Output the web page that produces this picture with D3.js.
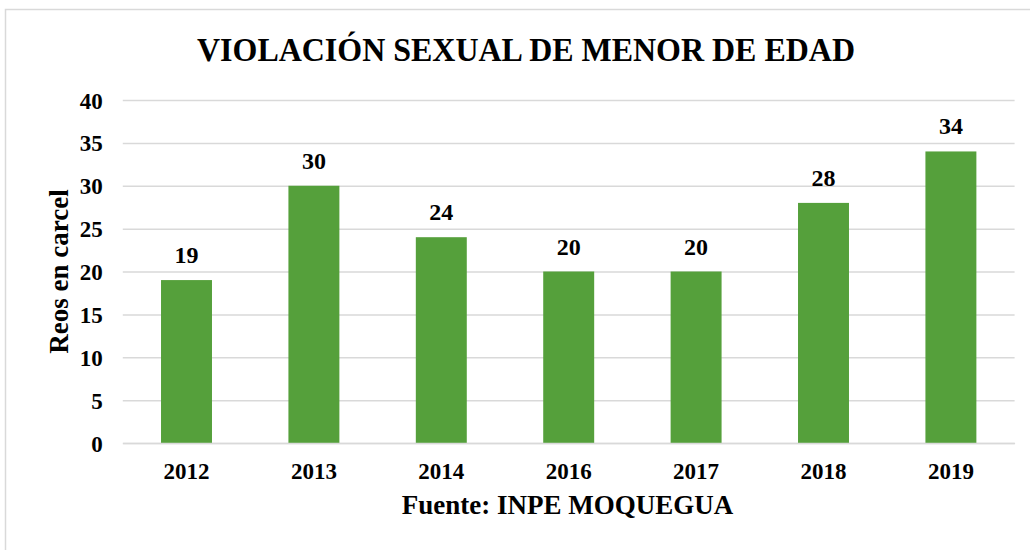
<!DOCTYPE html>
<html><head><meta charset="utf-8">
<script src="https://cdn.jsdelivr.net/npm/d3@7"></script>
<style>body{margin:0;background:#fff}svg{display:block}
svg text{font-family:"Liberation Serif","Times New Roman",Tinos,serif;font-weight:bold;fill:#000}</style>
</head><body>
<svg id="c" width="1030" height="550"></svg>
<script>
(function(){
const categories = ["2012","2013","2014","2016","2017","2018","2019"];
const values = [19,30,24,20,20,28,34];
const yTicks = [0,5,10,15,20,25,30,35,40];
const title = "VIOLACIÓN SEXUAL DE MENOR DE EDAD";
const yTitle = "Reos en carcel";
const xTitle = "Fuente: INPE MOQUEGUA";

const svg = d3.select("#c");
svg.append("rect").attr("x",5.5).attr("y",9.5).attr("width",1040).attr("height",560)
  .attr("fill","#fff").attr("stroke","#d9d9d9").attr("stroke-width",1.5);

const pLeft=122.8, pRight=1014.6, pTop=100, pBottom=443;
const x = d3.scaleBand().domain(categories).range([pLeft,pRight]).paddingInner(0.6).paddingOuter(0.3);
const y = d3.scaleLinear().domain([0,40]).range([pBottom,pTop]);

const g = svg.append("g");
const yAxis = g.append("g").attr("transform",`translate(${pLeft},0)`)
  .call(d3.axisLeft(y).tickValues(yTicks).tickSize(-(pRight-pLeft)).tickPadding(20));
yAxis.attr("font-family",null).attr("font-size",null);
yAxis.select(".domain").remove();
yAxis.selectAll(".tick line").attr("stroke","#d9d9d9").attr("stroke-width",1.5);
yAxis.selectAll(".tick text").style("font-size","23px").attr("fill","#000").attr("dy","0.35em");

g.selectAll("rect.bar").data(values).join("rect").attr("class","bar")
  .attr("x",(d,i)=>x(categories[i])).attr("width",x.bandwidth())
  .attr("y",d=>y(d)).attr("height",d=>pBottom-y(d)).attr("fill","#55A03B");

const xAxis = g.append("g").attr("transform",`translate(0,${pBottom})`)
  .call(d3.axisBottom(x).tickSize(0).tickPadding(20));
xAxis.attr("font-family",null).attr("font-size",null);
xAxis.select(".domain").attr("stroke","#d9d9d9").attr("stroke-width",1.5);
xAxis.selectAll(".tick text").style("font-size","23px").attr("fill","#000").attr("dy","0.71em");

g.selectAll("text.lbl").data(values).join("text").attr("class","lbl")
  .attr("x",(d,i)=>x(categories[i])+x.bandwidth()/2).attr("y",d=>y(d)-17)
  .attr("text-anchor","middle").style("font-size","24px").text(d=>d);

svg.append("text").attr("x",526).attr("y",61).attr("text-anchor","middle")
  .style("font-size","34px")
  .attr("textLength",658).attr("lengthAdjust","spacingAndGlyphs").text(title);

svg.append("text").attr("transform","translate(68,271.5) rotate(-90)").attr("text-anchor","middle")
  .style("font-size","27px").text(yTitle);

svg.append("text").attr("x",567.5).attr("y",514).attr("text-anchor","middle")
  .style("font-size","27px").text(xTitle);
})();
</script>
</body></html>
